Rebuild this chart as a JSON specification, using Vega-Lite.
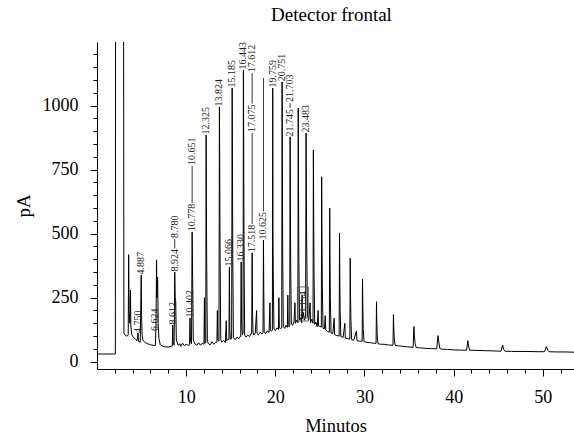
{
 "$schema": "https://vega.github.io/schema/vega-lite/v6.json",
 "width": 477, "height": 327,
 "autosize": "none",
 "padding": {"left": 97, "top": 42, "right": 0, "bottom": 66},
 "background": "white",
 "title": {"text": "Detector frontal", "font": "Liberation Serif", "fontSize": 19, "fontWeight": "normal", "color": "black", "offset": 17, "dx": -4, "anchor": "middle"},
 "config": {"view": {"stroke": null}},
 "datasets": {
  "chrom": [
{"t":0,"v":30},{"t":2.06,"v":30},{"t":2.08,"v":1225},{"t":2.09,"v":1400},{"t":2.98,"v":1400},{"t":3.02,"v":112},{"t":3.15,"v":104},{"t":3.3,"v":100},{"t":3.45,"v":102},{"t":3.5,"v":105},{"t":3.55,"v":418},{"t":3.6,"v":200},{"t":3.68,"v":150},{"t":3.75,"v":280},{"t":3.8,"v":140},{"t":3.9,"v":105},{"t":4.1,"v":95},{"t":4.3,"v":88},{"t":4.5,"v":82},{"t":4.6,"v":112},{"t":4.65,"v":80},{"t":4.85,"v":76},{"t":4.96,"v":339},{"t":5.0,"v":180},{"t":5.05,"v":110},{"t":5.15,"v":84},{"t":5.4,"v":74},{"t":5.7,"v":70},{"t":6.0,"v":66},{"t":6.3,"v":64},{"t":6.55,"v":63},{"t":6.62,"v":150},{"t":6.68,"v":398},{"t":6.72,"v":250},{"t":6.8,"v":330},{"t":6.86,"v":150},{"t":6.95,"v":90},{"t":7.1,"v":66},{"t":7.4,"v":60},{"t":7.7,"v":58},{"t":8.0,"v":57},{"t":8.3,"v":60},{"t":8.45,"v":62},{"t":8.5,"v":143},{"t":8.55,"v":68},{"t":8.65,"v":64},{"t":8.72,"v":350},{"t":8.77,"v":250},{"t":8.82,"v":240},{"t":8.9,"v":85},{"t":9.1,"v":64},{"t":9.3,"v":70},{"t":9.4,"v":60},{"t":9.6,"v":72},{"t":9.8,"v":62},{"t":10.0,"v":68},{"t":10.2,"v":64},{"t":10.38,"v":66},{"t":10.43,"v":171},{"t":10.48,"v":78},{"t":10.6,"v":70},{"t":10.67,"v":507},{"t":10.7,"v":420},{"t":10.73,"v":320},{"t":10.8,"v":85},{"t":11.0,"v":68},{"t":11.2,"v":64},{"t":11.4,"v":74},{"t":11.6,"v":64},{"t":11.8,"v":72},{"t":12.0,"v":68},{"t":12.05,"v":250},{"t":12.1,"v":72},{"t":12.2,"v":76},{"t":12.24,"v":885},{"t":12.27,"v":623},{"t":12.3,"v":400},{"t":12.38,"v":80},{"t":12.5,"v":70},{"t":12.7,"v":66},{"t":12.9,"v":78},{"t":13.1,"v":68},{"t":13.3,"v":76},{"t":13.45,"v":76},{"t":13.5,"v":200},{"t":13.55,"v":84},{"t":13.68,"v":80},{"t":13.73,"v":995},{"t":13.76,"v":780},{"t":13.8,"v":450},{"t":13.88,"v":86},{"t":14.0,"v":76},{"t":14.2,"v":84},{"t":14.4,"v":74},{"t":14.5,"v":160},{"t":14.55,"v":82},{"t":14.7,"v":88},{"t":14.8,"v":86},{"t":14.85,"v":370},{"t":14.9,"v":120},{"t":14.96,"v":88},{"t":15.1,"v":90},{"t":15.16,"v":1069},{"t":15.19,"v":820},{"t":15.23,"v":400},{"t":15.3,"v":94},{"t":15.5,"v":86},{"t":15.7,"v":96},{"t":15.9,"v":90},{"t":16.05,"v":98},{"t":16.12,"v":98},{"t":16.17,"v":389},{"t":16.22,"v":150},{"t":16.3,"v":104},{"t":16.38,"v":112},{"t":16.42,"v":1139},{"t":16.45,"v":885},{"t":16.49,"v":450},{"t":16.56,"v":104},{"t":16.7,"v":96},{"t":16.9,"v":104},{"t":17.1,"v":98},{"t":17.25,"v":108},{"t":17.35,"v":110},{"t":17.4,"v":425},{"t":17.45,"v":180},{"t":17.5,"v":112},{"t":17.6,"v":104},{"t":17.75,"v":112},{"t":17.9,"v":200},{"t":17.95,"v":110},{"t":18.1,"v":105},{"t":18.3,"v":115},{"t":18.5,"v":108},{"t":18.62,"v":114},{"t":18.67,"v":475},{"t":18.7,"v":300},{"t":18.75,"v":117},{"t":18.9,"v":110},{"t":19.1,"v":120},{"t":19.3,"v":114},{"t":19.4,"v":230},{"t":19.45,"v":122},{"t":19.6,"v":120},{"t":19.67,"v":122},{"t":19.71,"v":1069},{"t":19.74,"v":475},{"t":19.78,"v":300},{"t":19.85,"v":127},{"t":20.0,"v":122},{"t":20.2,"v":132},{"t":20.35,"v":126},{"t":20.4,"v":250},{"t":20.45,"v":132},{"t":20.6,"v":130},{"t":20.72,"v":132},{"t":20.76,"v":1093},{"t":20.79,"v":788},{"t":20.83,"v":400},{"t":20.9,"v":137},{"t":21.05,"v":130},{"t":21.2,"v":142},{"t":21.35,"v":134},{"t":21.4,"v":260},{"t":21.45,"v":140},{"t":21.58,"v":137},{"t":21.62,"v":142},{"t":21.66,"v":878},{"t":21.69,"v":600},{"t":21.73,"v":350},{"t":21.8,"v":147},{"t":21.95,"v":142},{"t":22.1,"v":157},{"t":22.2,"v":230},{"t":22.25,"v":150},{"t":22.4,"v":162},{"t":22.53,"v":152},{"t":22.57,"v":990},{"t":22.6,"v":700},{"t":22.64,"v":400},{"t":22.72,"v":162},{"t":22.85,"v":172},{"t":22.95,"v":152},{"t":23.0,"v":260},{"t":23.05,"v":167},{"t":23.15,"v":192},{"t":23.25,"v":162},{"t":23.4,"v":172},{"t":23.45,"v":893},{"t":23.48,"v":658},{"t":23.52,"v":463},{"t":23.6,"v":182},{"t":23.75,"v":162},{"t":23.9,"v":230},{"t":23.95,"v":152},{"t":24.1,"v":166},{"t":24.23,"v":150},{"t":24.27,"v":827},{"t":24.3,"v":600},{"t":24.34,"v":350},{"t":24.42,"v":146},{"t":24.55,"v":155},{"t":24.7,"v":136},{"t":24.8,"v":200},{"t":24.85,"v":140},{"t":25.0,"v":138},{"t":25.16,"v":135},{"t":25.2,"v":722},{"t":25.23,"v":500},{"t":25.27,"v":300},{"t":25.35,"v":130},{"t":25.5,"v":128},{"t":25.6,"v":180},{"t":25.65,"v":125},{"t":25.85,"v":118},{"t":26.06,"v":115},{"t":26.1,"v":600},{"t":26.13,"v":420},{"t":26.17,"v":250},{"t":26.25,"v":112},{"t":26.45,"v":110},{"t":26.6,"v":170},{"t":26.65,"v":106},{"t":26.9,"v":102},{"t":27.16,"v":100},{"t":27.2,"v":503},{"t":27.23,"v":350},{"t":27.27,"v":200},{"t":27.35,"v":98},{"t":27.6,"v":95},{"t":27.8,"v":150},{"t":27.85,"v":92},{"t":28.1,"v":90},{"t":28.36,"v":88},{"t":28.4,"v":404},{"t":28.43,"v":280},{"t":28.48,"v":160},{"t":28.56,"v":86},{"t":28.8,"v":84},{"t":29.1,"v":120},{"t":29.15,"v":82},{"t":29.5,"v":80},{"t":29.74,"v":80},{"t":29.78,"v":322},{"t":29.81,"v":220},{"t":29.86,"v":130},{"t":29.95,"v":78},{"t":30.3,"v":75},{"t":30.7,"v":74},{"t":31.0,"v":72},{"t":31.3,"v":72},{"t":31.35,"v":234},{"t":31.38,"v":160},{"t":31.43,"v":100},{"t":31.52,"v":70},{"t":31.8,"v":68},{"t":32.2,"v":68},{"t":32.7,"v":65},{"t":33.2,"v":64},{"t":33.25,"v":184},{"t":33.29,"v":130},{"t":33.35,"v":85},{"t":33.45,"v":63},{"t":33.8,"v":62},{"t":34.3,"v":60},{"t":34.8,"v":58},{"t":35.45,"v":56},{"t":35.55,"v":137},{"t":35.6,"v":100},{"t":35.68,"v":70},{"t":35.8,"v":55},{"t":36.3,"v":54},{"t":36.8,"v":52},{"t":37.5,"v":51},{"t":38.1,"v":50},{"t":38.25,"v":102},{"t":38.32,"v":80},{"t":38.45,"v":52},{"t":38.6,"v":49},{"t":39.3,"v":48},{"t":40.0,"v":46},{"t":41.0,"v":45},{"t":41.45,"v":45},{"t":41.6,"v":82},{"t":41.7,"v":58},{"t":41.8,"v":45},{"t":42.5,"v":44},{"t":43.5,"v":43},{"t":44.5,"v":42},{"t":45.3,"v":41},{"t":45.5,"v":65},{"t":45.6,"v":48},{"t":45.75,"v":41},{"t":46.5,"v":40},{"t":48,"v":40},{"t":49.5,"v":39},{"t":50.2,"v":39},{"t":50.4,"v":59},{"t":50.55,"v":45},{"t":50.7,"v":39},{"t":51.5,"v":38},{"t":52.5,"v":38},{"t":53.5,"v":37}
  ],
  "labels": [
{"s":"4.750","t":4.57,"v":112},{"s":"4.887","t":4.96,"v":341},{"s":"6.624","t":6.56,"v":120},{"s":"8.612","t":8.5,"v":145},{"s":"8.924","t":8.72,"v":352},{"s":"8.780","t":8.72,"v":483},{"s":"10.402","t":10.43,"v":173},{"s":"10.778","t":10.67,"v":509},{"s":"10.651","t":10.67,"v":768},{"s":"12.325","t":12.24,"v":887},{"s":"13.824","t":13.73,"v":997},{"s":"15.066","t":14.85,"v":372},{"s":"15.185","t":15.16,"v":1071},{"s":"16.330","t":16.17,"v":391},{"s":"16.443","t":16.42,"v":1141},{"s":"17.518","t":17.4,"v":427},{"s":"17.075","t":17.4,"v":897},{"s":"17.612","t":17.4,"v":1131},{"s":"10.625","t":18.67,"v":477},{"s":"19.759","t":19.71,"v":1071},{"s":"20.751","t":20.76,"v":1095},{"s":"21.745","t":21.66,"v":880},{"s":"21.703","t":21.66,"v":1014},{"s":"23.154","t":23.07,"v":168},{"s":"23.483","t":23.45,"v":895}
  ],
  "rules": [
{"t":8.72,"v":442,"b":479},{"t":10.67,"v":620,"b":764},{"t":17.4,"v":538,"b":893},{"t":17.4,"v":1008,"b":1127},{"t":18.67,"v":588,"b":1108},{"t":21.66,"v":991,"b":1010}
  ],
  "boxes": [
{"t":22.48,"t2":23.7,"v":159,"b":292}
  ]
 },
 "encoding": {
  "x": {"field": "t", "type": "quantitative", "scale": {"domain": [0, 53.5], "nice": false, "zero": false},
   "axis": {"title": "Minutos", "values": [2,4,6,8,10,12,14,16,18,20,22,24,26,28,30,32,34,36,38,40,42,44,46,48,50,52],
    "format": "d",
    "labelExpr": "datum.value % 10 === 0 ? datum.label : ''",
    "tickSize": {"condition": {"test": "datum.value % 10 === 0", "value": 7}, "value": 4},
    "grid": false, "domainColor": "black", "tickColor": "black", "labelColor": "black", "titleColor": "black",
    "labelFont": "Liberation Serif", "labelFontSize": 18, "titleFont": "Liberation Serif", "titleFontSize": 18.5, "titleFontWeight": "normal",
    "labelPadding": 12, "titlePadding": 10, "labelFlush": false, "labelOverlap": false}},
  "y": {"field": "v", "type": "quantitative", "scale": {"domain": [-28.6, 1248.7], "nice": false, "zero": false},
   "axis": {"title": "pA", "values": [0,50,100,150,200,250,300,350,400,450,500,550,600,650,700,750,800,850,900,950,1000,1050,1100,1150,1200],
    "format": "d",
    "labelExpr": "datum.value % 250 === 0 ? datum.label : ''",
    "tickSize": {"condition": {"test": "datum.value % 250 === 0", "value": 7}, "value": 4},
    "grid": false, "domainColor": "black", "tickColor": "black", "labelColor": "black", "titleColor": "black",
    "labelFont": "Liberation Serif", "labelFontSize": 18, "titleFont": "Liberation Serif", "titleFontSize": 19, "titleFontWeight": "normal",
    "labelPadding": 12, "titlePadding": 9, "labelOverlap": false}}
 },
 "layer": [
  {
   "data": {"name": "chrom"},
   "mark": {"type": "line", "color": "black", "strokeWidth": 1, "clip": true, "interpolate": "linear"},
   "encoding": {"order": {"field": "t", "type": "quantitative"}}
  },
  {
   "data": {"name": "rules"},
   "mark": {"type": "rule", "color": "#222", "strokeWidth": 0.9},
   "encoding": {"y2": {"field": "b"}}
  },
  {
   "data": {"name": "boxes"},
   "mark": {"type": "rect", "fill": null, "stroke": "#444", "strokeWidth": 0.8},
   "encoding": {"x2": {"field": "t2"}, "y2": {"field": "b"}}
  },
  {
   "data": {"name": "labels"},
   "mark": {"type": "text", "angle": -90, "align": "left", "baseline": "middle", "font": "Liberation Serif", "fontSize": 10, "color": "#222"},
   "encoding": {"text": {"field": "s"}}
  }
 ]
}
